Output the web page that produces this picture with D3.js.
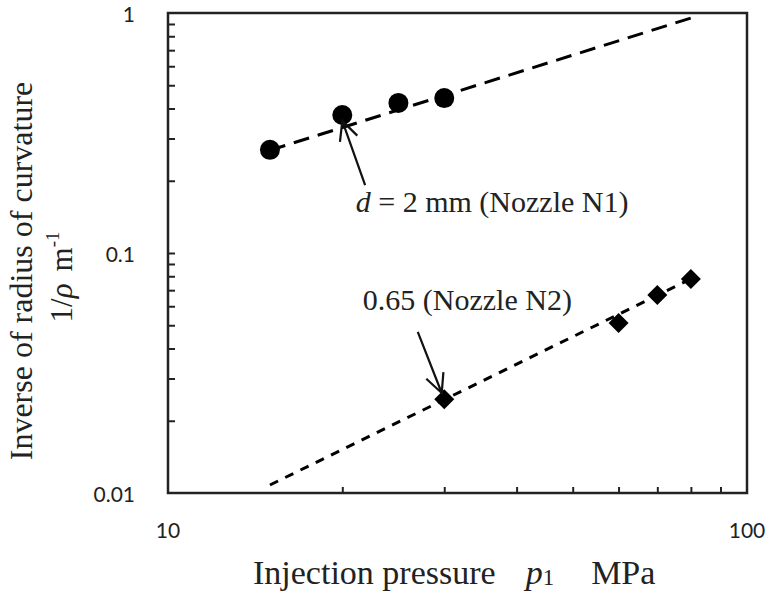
<!DOCTYPE html>
<meta charset="utf-8">
<style>
    body { margin: 0; background: #fff; }
    svg { display: block; }
    .serif { font-family: "Liberation Serif", "Times New Roman", serif; fill: #222; }
    .tick-label { font-family: Lato, "Open Sans", "Liberation Sans", sans-serif; font-size: 21px; fill: #222; }
</style>
<body>
<script src="https://cdn.jsdelivr.net/npm/d3@7"></script>
<script>
    // Nozzle N1 (d = 2 mm): circles
    const pressureN1 = [15, 20, 25, 30];
    const curvN1 = [0.269, 0.376, 0.422, 0.442];
    // Nozzle N2 (d = 0.65 mm): diamonds
    const pressureN2 = [30, 60, 70, 80];
    const curvN2 = [0.0246, 0.0511, 0.0668, 0.0779];
    // fitted power-law lines (end points)
    const fitN1P = [15, 80], fitN1C = [0.268, 0.953];
    const fitN2P = [15, 80], fitN2C = [0.0108, 0.078];

    const xMajor = [10, 100];
    const xMinor = [20, 30, 40, 50, 60, 70, 80, 90];
    const yMajor = [0.01, 0.1, 1];
    const yMinor = [0.02, 0.03, 0.04, 0.05, 0.06, 0.07, 0.08, 0.09,
                    0.2, 0.3, 0.4, 0.5, 0.6, 0.7, 0.8, 0.9];

    // annotations: text anchor, arrow tail, arrow tip (data coords)
    const labels = [
        {text: "N1", p: 21.1, c: 0.148, tail: [21.9, 0.192], tip: [20.0, 0.355]},
        {text: "N2", p: 21.7, c: 0.0579, tail: [27.0, 0.0469], tip: [29.7, 0.0261]}
    ];

    const margin = {top: 13, right: 25, bottom: 104, left: 168};
    const width = 772 - margin.left - margin.right;
    const height = 597 - margin.top - margin.bottom;

    const svg = d3.select('body').append('svg')
        .attr('width', 772)
        .attr('height', 597);

    const g = svg.append('g')
        .attr('transform', 'translate(' + margin.left + ',' + margin.top + ')');

    const x = d3.scaleLog().domain([10, 100]).range([0, width]);
    const y = d3.scaleLog().domain([0.01, 1]).range([height, 0]);

    // inward ticks
    g.append('g')
        .attr('transform', 'translate(0,' + height + ')')
        .call(d3.axisBottom(x).tickValues(xMinor).tickSize(-6).tickFormat(''))
        .call(a => a.select('.domain').remove())
        .selectAll('line').attr('stroke', '#222').attr('stroke-width', 2);

    g.append('g')
        .call(d3.axisLeft(y).tickValues(yMinor.concat([0.1])).tickSize(-7).tickFormat(''))
        .call(a => a.select('.domain').remove())
        .selectAll('line').attr('stroke', '#222').attr('stroke-width', 2);

    // tick labels
    g.selectAll('.xlab')
        .data(xMajor)
        .enter().append('text')
        .attr('class', 'tick-label')
        .attr('x', d => x(d))
        .attr('y', height + 45)
        .attr('text-anchor', 'middle')
        .text(d => d);

    g.selectAll('.ylab')
        .data(yMajor)
        .enter().append('text')
        .attr('class', 'tick-label')
        .attr('x', -33)
        .attr('y', d => y(d) + 1)
        .attr('dy', '0.36em')
        .attr('text-anchor', 'end')
        .text(d => d);

    // frame
    g.append('rect')
        .attr('width', width)
        .attr('height', height)
        .attr('fill', 'none')
        .attr('stroke', '#222')
        .attr('stroke-width', 2.5);

    const line = d3.line()
        .x(d => x(d[0]))
        .y(d => y(d[1]));

    g.append('path')
        .datum(d3.zip(fitN1P, fitN1C))
        .attr('d', line)
        .attr('fill', 'none')
        .attr('stroke', '#000')
        .attr('stroke-width', 3)
        .attr('stroke-dasharray', '16,9');

    g.append('path')
        .datum(d3.zip(fitN2P, fitN2C))
        .attr('d', line)
        .attr('fill', 'none')
        .attr('stroke', '#000')
        .attr('stroke-width', 3)
        .attr('stroke-dasharray', '9,8');

    g.selectAll('.dotN1')
        .data(d3.zip(pressureN1, curvN1))
        .enter().append('circle')
        .attr('cx', d => x(d[0]))
        .attr('cy', d => y(d[1]))
        .attr('r', 10)
        .attr('fill', '#000');

    g.selectAll('.dotN2')
        .data(d3.zip(pressureN2, curvN2))
        .enter().append('path')
        .attr('d', d3.symbol().type(d3.symbolSquare).size(200))
        .attr('transform', d => 'translate(' + x(d[0]) + ',' + y(d[1]) + ') rotate(45)')
        .attr('fill', '#000');

    // arrows
    labels.forEach(l => {
        const x0 = x(l.tail[0]), y0 = y(l.tail[1]);
        const x1 = x(l.tip[0]), y1 = y(l.tip[1]);
        const ang = Math.atan2(y0 - y1, x0 - x1);
        const len = 21, spread = 26 * Math.PI / 180;
        const head = [ang - spread, ang + spread].map(a => [x1 + len * Math.cos(a), y1 + len * Math.sin(a)]);
        g.append('path')
            .attr('d', 'M' + x0 + ',' + y0 + 'L' + x1 + ',' + y1 +
                'M' + head[0] + 'L' + x1 + ',' + y1 + 'L' + head[1])
            .attr('fill', 'none')
            .attr('stroke', '#111')
            .attr('stroke-width', 2.2);
    });

    const t1 = g.append('text')
        .attr('class', 'serif')
        .attr('font-size', 30)
        .attr('x', x(labels[0].p))
        .attr('y', y(labels[0].c));
    t1.append('tspan').attr('font-style', 'italic').text('d');
    t1.append('tspan').text(' = 2 mm (Nozzle N1)');

    g.append('text')
        .attr('class', 'serif')
        .attr('font-size', 30)
        .attr('x', x(labels[1].p))
        .attr('y', y(labels[1].c))
        .text('0.65 (Nozzle N2)');

    // x axis title
    const xt = svg.append('text')
        .attr('class', 'serif')
        .attr('font-size', 34)
        .attr('x', 253)
        .attr('y', 584);
    xt.append('tspan').text('Injection pressure');
    xt.append('tspan').attr('dx', 30).attr('font-style', 'italic').text('p');
    xt.append('tspan').attr('font-size', 23).attr('dy', 1).text('1');
    xt.append('tspan').attr('dx', 37).attr('dy', -1).text('MPa');

    // y axis title (two lines)
    const yt = svg.append('g')
        .attr('transform', 'translate(32,271) rotate(-90)');
    yt.append('text')
        .attr('class', 'serif')
        .attr('font-size', 32)
        .attr('text-anchor', 'middle')
        .text('Inverse of radius of curvature');
    const yt2 = yt.append('text')
        .attr('class', 'serif')
        .attr('font-size', 31)
        .attr('text-anchor', 'middle')
        .attr('y', 40)
        .attr('x', -6);
    yt2.append('tspan').text('1/');
    yt2.append('tspan').attr('font-style', 'italic').text('ρ');
    yt2.append('tspan').attr('dx', 12).text('m');
    yt2.append('tspan').attr('font-size', 19).attr('dy', -13).text('-1');
</script>
</body>
</html>
